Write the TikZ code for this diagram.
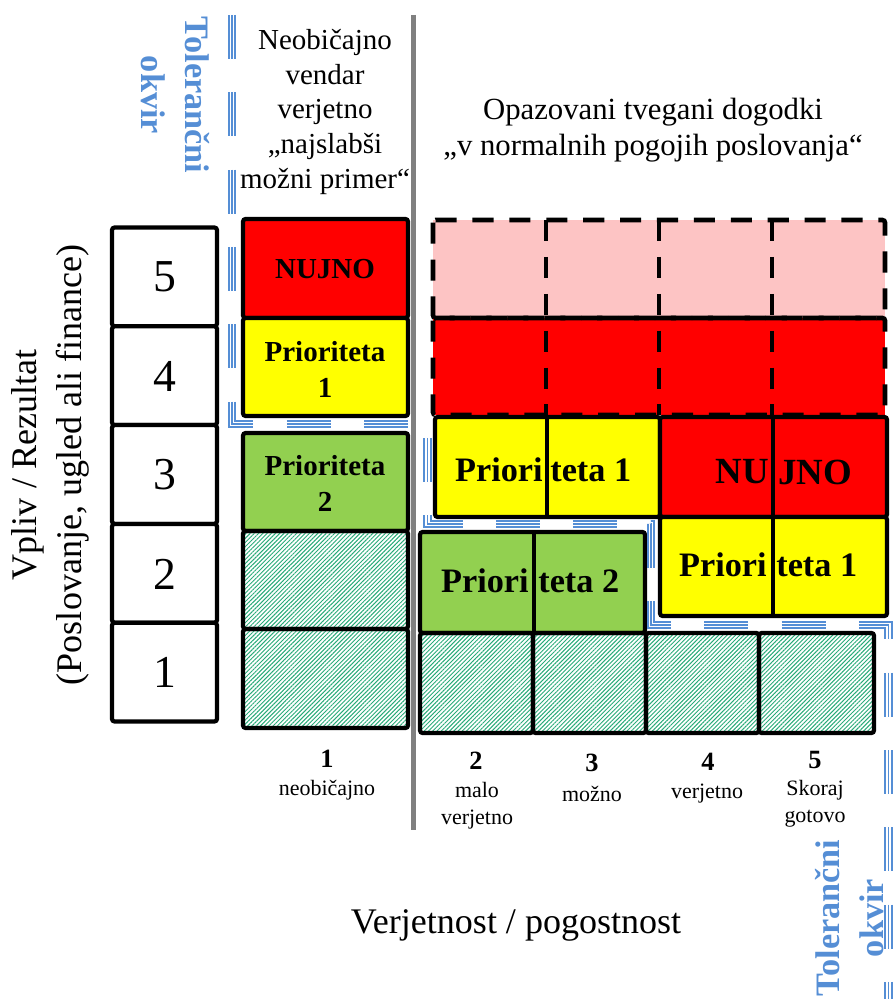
\documentclass[tikz,border=0pt]{standalone}
\usepackage{fontspec}
\setmainfont{Liberation Serif}
\usepackage{tikz}
\usetikzlibrary{patterns.meta}
\definecolor{risk_red}{RGB}{255, 0, 0}
\definecolor{risk_yellow}{RGB}{255, 255, 0}
\definecolor{risk_green}{RGB}{146, 208, 80}
\definecolor{risk_pink}{RGB}{253, 196, 196}
\definecolor{hatch_green}{RGB}{40, 170, 120}
\definecolor{tol_blue}{RGB}{85, 142, 213}
\definecolor{axis_grey}{RGB}{128, 128, 128}
\tikzstyle{cell}=[draw=black,line width=2.4pt,rounded corners=1.5pt]
\tikzstyle{rc}=[cell,fill=risk_red]
\tikzstyle{yc}=[cell,fill=risk_yellow]
\tikzstyle{gc}=[cell,fill=risk_green]
\tikzstyle{hc}=[cell,pattern={Lines[angle=45,distance=1.7pt,line width=0.55pt]},
  pattern color=hatch_green]
\tikzstyle{wc}=[cell,fill=white]
\tikzstyle{dc}=[draw=black,line width=2.6pt,dash pattern=on 12pt off 9pt,
  rounded corners=1.5pt]
\tikzstyle{div}=[draw=black,line width=2.4pt]
\tikzstyle{tolline}=[draw=tol_blue,line width=1pt,dash pattern=on 25pt off 19pt,
  preaction={draw=tol_blue,line width=4.6pt,dash pattern=on 25pt off 19pt},
  preaction={draw=white,line width=2.8pt,dash pattern=on 25pt off 19pt}]
\tikzstyle{hd}=[align=center,font=\fontsize{16.5}{19.7}\selectfont]
\tikzstyle{hdw}=[align=center,font=\fontsize{17.5}{20.5}\selectfont]
\tikzstyle{ax}=[align=center,font=\fontsize{20.5}{25.5}\selectfont]
\tikzstyle{tolt}=[align=center,text=tol_blue,font=\bfseries\fontsize{19.5}{25}\selectfont]
\tikzstyle{num}=[font=\fontsize{26}{30}\selectfont]
\tikzstyle{lbl}=[align=center,font=\bfseries\fontsize{16.5}{20.5}\selectfont]
\tikzstyle{big}=[inner sep=0pt,font=\bfseries\fontsize{19.5}{22}\selectfont]
\tikzstyle{bigger}=[inner sep=0pt,font=\bfseries\fontsize{21}{24}\selectfont]
\tikzstyle{cn}=[font=\bfseries\fontsize{15}{18}\selectfont]
\tikzstyle{ct}=[align=center,font=\fontsize{12.5}{15.5}\selectfont]

\begin{document}
\begin{tikzpicture}[x=0.02cm,y=-0.02cm]
            \useasboundingbox (0,0) rectangle (892,999);
            % impact scale
            \draw [style=wc] (112,227.5) rectangle (217,326.3);
            \draw [style=wc] (112,326.3) rectangle (217,425.1);
            \draw [style=wc] (112,425.1) rectangle (217,523.9);
            \draw [style=wc] (112,523.9) rectangle (217,622.7);
            \draw [style=wc] (112,622.7) rectangle (217,721.5);
            \node [style=num] (5) at (165,277) {5};
            \node [style=num] (4) at (165,376) {4};
            \node [style=num] (3) at (165,475) {3};
            \node [style=num] (2) at (165,574) {2};
            \node [style=num] (1) at (165,672) {1};
            % first column
            \draw [style=rc] (243,219) rectangle (408,318);
            \draw [style=yc] (243,318) rectangle (408,416);
            \draw [style=gc] (243,433) rectangle (408,531);
            \draw [style=hc] (243,531) rectangle (408,629);
            \draw [style=hc] (243,629) rectangle (408,728);
            \node [style=lbl] (10) at (325,269) {NUJNO};
            \node [style=lbl] (11) at (325,369) {Prioriteta\\1};
            \node [style=lbl] (12) at (325,483) {Prioriteta\\2};
            % dashed rows
            \fill [risk_pink] (433,220) rectangle (885,318);
            \fill [risk_red] (433,318) rectangle (885,415);
            \draw [style=dc] (433,220) rectangle (885,318);
            \draw [style=dc] (433,318) rectangle (885,415);
            \draw [style=dc] (546,220) -- (546,415);
            \draw [style=dc] (659,220) -- (659,415);
            \draw [style=dc] (772,220) -- (772,415);
            % solid cells
            \draw [style=yc] (435,417) rectangle (660,517);
            \draw [style=rc] (660,417) rectangle (887,517);
            \draw [style=yc] (660,517) rectangle (887,616);
            \draw [style=gc] (420,532) rectangle (645,633);
            \draw [style=div] (547,417) -- (547,517);
            \draw [style=div] (773,417) -- (773,616);
            \draw [style=div] (534,532) -- (534,633);
            \draw [style=hc] (420,633) rectangle (533,733);
            \draw [style=hc] (533,633) rectangle (646,733);
            \draw [style=hc] (646,633) rectangle (759,733);
            \draw [style=hc] (759,633) rectangle (874,733);
            \node [style=big, anchor=east] (20) at (543,470) {Priori};
            \node [style=big, anchor=west] (21) at (550,470) {teta 1};
            \node [style=bigger, anchor=east] (22) at (769,472) {NU};
            \node [style=bigger, anchor=west] (23) at (778,472) {JNO};
            \node [style=big, anchor=east] (24) at (767,565) {Priori};
            \node [style=big, anchor=west] (25) at (776,565) {teta 1};
            \node [style=big, anchor=east] (26) at (529,581) {Priori};
            \node [style=big, anchor=west] (27) at (538,581) {teta 2};
            % divider and tolerance line
            \draw [axis_grey, line width=2.4pt] (413.5,15) -- (413.5,830);
            \draw [style=tolline] (232,15) -- (232,424) -- (427.5,424) -- (427.5,524)
              -- (651,524) -- (651,625) -- (888.5,625) -- (888.5,1005);
            % headings
            \node [style=hd] (30) at (325,112) {Neobičajno\\vendar\\verjetno\\„najslabši\\možni primer“};
            \node [style=hdw] (31) at (653,130) {Opazovani tvegani dogodki\\„v normalnih pogojih poslovanja“};
            \node [style=tolt, rotate=-90] (32) at (175,95) {Tolerančni\\okvir};
            \node [style=tolt, rotate=90] (33) at (850,918) {Tolerančni\\okvir};
            \node [style=ax, rotate=90] (34) at (50,465) {Vpliv / Rezultat\\(Poslovanje, ugled ali finance)};
            \node [style=ax] (35) at (516,925) {Verjetnost / pogostnost};
            % likelihood labels
            \node [style=cn] (40) at (327,759) {1};
            \node [style=ct] (41) at (327,790) {neobičajno};
            \node [style=cn] (42) at (476,761) {2};
            \node [style=ct] (43) at (477,806) {malo\\verjetno};
            \node [style=cn] (44) at (592,763) {3};
            \node [style=ct] (45) at (592,794) {možno};
            \node [style=cn] (46) at (708,762) {4};
            \node [style=ct] (47) at (707,794) {verjetno};
            \node [style=cn] (48) at (815,760) {5};
            \node [style=ct] (49) at (815,804) {Skoraj\\gotovo};
\end{tikzpicture}
\end{document}
